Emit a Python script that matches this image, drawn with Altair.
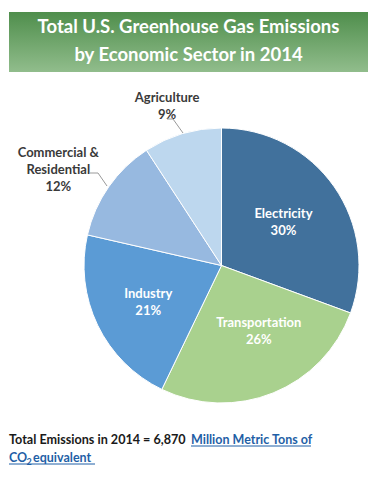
import altair as alt
import pandas as pd

# ---- data ----
sectors = ["Electricity", "Transportation", "Industry", "Commercial & Residential", "Agriculture"]
shares = [30, 26, 21, 12, 9]
label_names = ["Electricity", "Transportation", "Industry", "Commercial &\nResidential", "Agriculture"]
colors = ["#41719C", "#A9D18E", "#5B9BD5", "#97B9E0", "#BDD7EE"]

title_lines = ["Total U.S. Greenhouse Gas Emissions", "by Economic Sector in 2014"]
footer_black = "Total Emissions in 2014 = 6,870"
footer_link1 = "Million Metric Tons of"
footer_link2a = "CO"
footer_link2sub = "2"
footer_link2b = "equivalent"

df = pd.DataFrame({
    "idx": list(range(len(sectors))),
    "sector": sectors,
    "share": shares,
    "name": label_names,
})

CX, CY, R = 213.5, 257.5, 137.5
FONT = "Lato"

base = alt.Chart(df).transform_calculate(
    lbl="datum.name + '\\n' + datum.share + '%'"
).encode(
    theta=alt.Theta("share:Q", stack=True),
    order=alt.Order("idx:Q"),
    x=alt.value(CX),
    y=alt.value(CY),
)

pie = base.mark_arc(outerRadius=R, stroke="white", strokeWidth=1).encode(
    color=alt.Color("sector:N", scale=alt.Scale(domain=sectors, range=colors), legend=None)
)

def label_layer(cats, radius, color, dx=0, dy=0):
    cond = " || ".join([f"datum.sector == '{c}'" for c in cats])
    return base.transform_calculate(
        t=f"({cond}) ? datum.lbl : ''"
    ).mark_text(
        radius=radius, font=FONT, fontWeight="bold", fontSize=13, color=color,
        lineBreak="\n", lineHeight=17, align="center", baseline="middle", dx=dx, dy=dy
    ).encode(text="t:N")

lab_e = label_layer(["Electricity"], 78, "white", dx=-2, dy=-7)
lab_t = label_layer(["Transportation"], 78, "white", dx=8, dy=-15)
lab_i = label_layer(["Industry"], 78, "white", dx=-3, dy=-5)
agri = label_layer(["Agriculture"], 170, "#3a3a3a", dx=-6, dy=-5)
comm = label_layer(["Commercial & Residential"], 188, "#3a3a3a", dx=-9, dy=-5)

one = pd.DataFrame({"a": [0]})

banner = alt.Chart(one).mark_rect(
    fill=alt.Gradient(
        gradient="linear",
        stops=[alt.GradientStop(color="#4F8E4C", offset=0),
               alt.GradientStop(color="#91BD8C", offset=1)],
        x1=0, x2=0, y1=0, y2=1,
    )
).encode(x=alt.value(1), x2=alt.value(360), y=alt.value(4), y2=alt.value(64))

def txt(s, x, y, size, color, align="center", weight="bold"):
    return alt.Chart(one).mark_text(
        text=s, font=FONT, fontSize=size, fontWeight=weight, color=color,
        align=align, baseline="middle"
    ).encode(x=alt.value(x), y=alt.value(y))

title1 = txt(title_lines[0], 180.5, 19, 18.5, "white")
title2 = txt(title_lines[1], 180.5, 47, 18.5, "white")

LINK = "#1F5FA6"
f1 = txt(footer_black, 1, 431.5, 12.6, "#1a1a1a", align="left")
f2 = txt(footer_link1, 183, 431.5, 12.5, LINK, align="left")
f3 = txt(footer_link2a, 1, 450, 12.5, LINK, align="left")
f3s = txt(footer_link2sub, 18.5, 454, 9, LINK, align="left")
f4 = txt(footer_link2b, 25, 450, 12.5, LINK, align="left")

def rule(x1, y1, x2, y2, color, w=1):
    return alt.Chart(one).mark_rule(color=color, strokeWidth=w).encode(
        x=alt.value(x1), y=alt.value(y1), x2=alt.value(x2), y2=alt.value(y2)
    )

GRAY = "#9a9a9a"
leaders = [
    rule(159, 111, 165, 111, GRAY), rule(165, 111, 175, 125, GRAY),
    rule(82, 165, 90, 165, GRAY), rule(90, 165, 99, 178, GRAY),
]
underlines = [
    rule(183, 438, 303, 438, LINK), rule(1, 456, 87, 456, LINK),
]

chart = alt.layer(
    banner, title1, title2, pie, lab_e, lab_t, lab_i, agri, comm,
    *leaders, f1, f2, f3, f3s, f4, *underlines
).properties(
    width=363, height=462, padding=0, autosize=alt.AutoSizeParams(type="none")
).configure_view(stroke=None)

chart.save("out.html", embed_options={"renderer": "svg", "actions": False})
